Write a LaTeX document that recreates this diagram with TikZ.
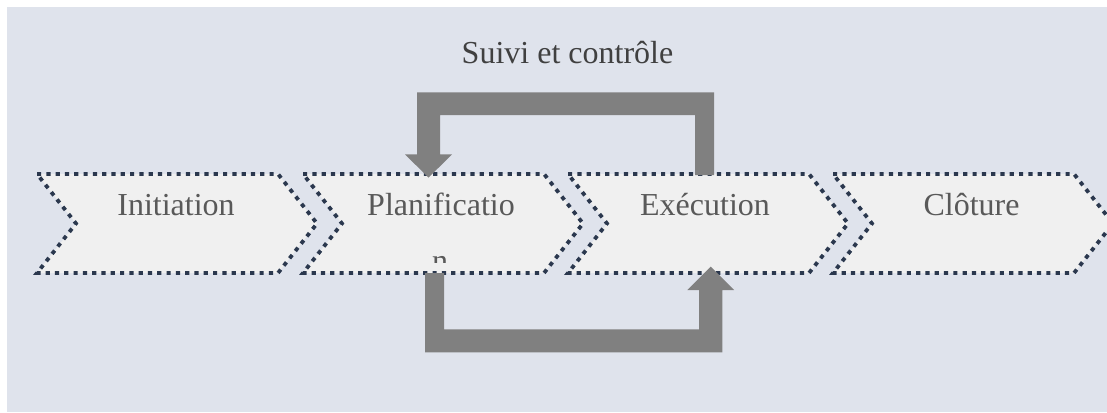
\documentclass[tikz,border=0pt]{standalone}
\usepackage{fontspec}
\setmainfont{Liberation Serif}
\begin{document}
\definecolor{panelbg}{HTML}{DFE3EC}
\definecolor{stagefill}{HTML}{F0F0F0}
\definecolor{stageline}{HTML}{2B384E}
\definecolor{loopgray}{HTML}{808080}
\definecolor{stagetext}{HTML}{595959}
\definecolor{looptext}{HTML}{404040}
\begin{tikzpicture}[x=1pt,y=-1pt,
  stagebox/.style={fill=stagefill,draw=stageline,line width=3.8pt,
    dash pattern=on 4.2pt off 5.1pt,line join=miter},
  stagelabel/.style={anchor=base,inner sep=0pt,text=stagetext,
    font=\fontsize{32}{38}\selectfont},
  looplabel/.style={anchor=base,inner sep=0pt,text=looptext,
    font=\fontsize{32}{38}\selectfont},
  looparrow/.style={fill=loopgray,draw=none}]
% page and panel
\useasboundingbox (0,0) rectangle (1107,412);
\fill[white] (0,0) rectangle (1107,412);
\fill[panelbg] (7,7) rectangle (1107,412);
% the four chevron stages
\foreach \L in {37,303,568,833}{
  \draw[stagebox] (\L,174) -- (\L+241,174) -- (\L+280,223.5)
    -- (\L+241,273) -- (\L,273) -- (\L+39,223.5) -- cycle;
}
\node[stagelabel] (init) at (176,215.7) {Initiation};
\node[stagelabel] (plan) at (441,215.7) {Planificatio};
\begin{scope}
  \clip (400,240) rectangle (480,262);
  \node[stagelabel] (planrest) at (440,271.4) {n};
\end{scope}
\node[stagelabel] (exec) at (705,215.7) {Exécution};
\node[stagelabel] (clot) at (971.5,215.7) {Clôture};
% monitoring loop: Exécution back to Planification
\fill[looparrow] (714,175) -- (714,92.3) -- (417,92.3) -- (417,154.3)
  -- (405,154.3) -- (428.5,177.7) -- (452,154.3) -- (440,154.3)
  -- (440,115) -- (695,115) -- (695,175) -- cycle;
\node[looplabel] (suivi) at (567.5,63.3) {Suivi et contrôle};
% Planification feeding Exécution
\fill[looparrow] (425,273) -- (425,352.3) -- (722.3,352.3) -- (722.3,290)
  -- (734,290) -- (710.7,266.7) -- (687.3,290) -- (699,290)
  -- (699,329.3) -- (444,329.3) -- (444,273) -- cycle;
\end{tikzpicture}
\end{document}
